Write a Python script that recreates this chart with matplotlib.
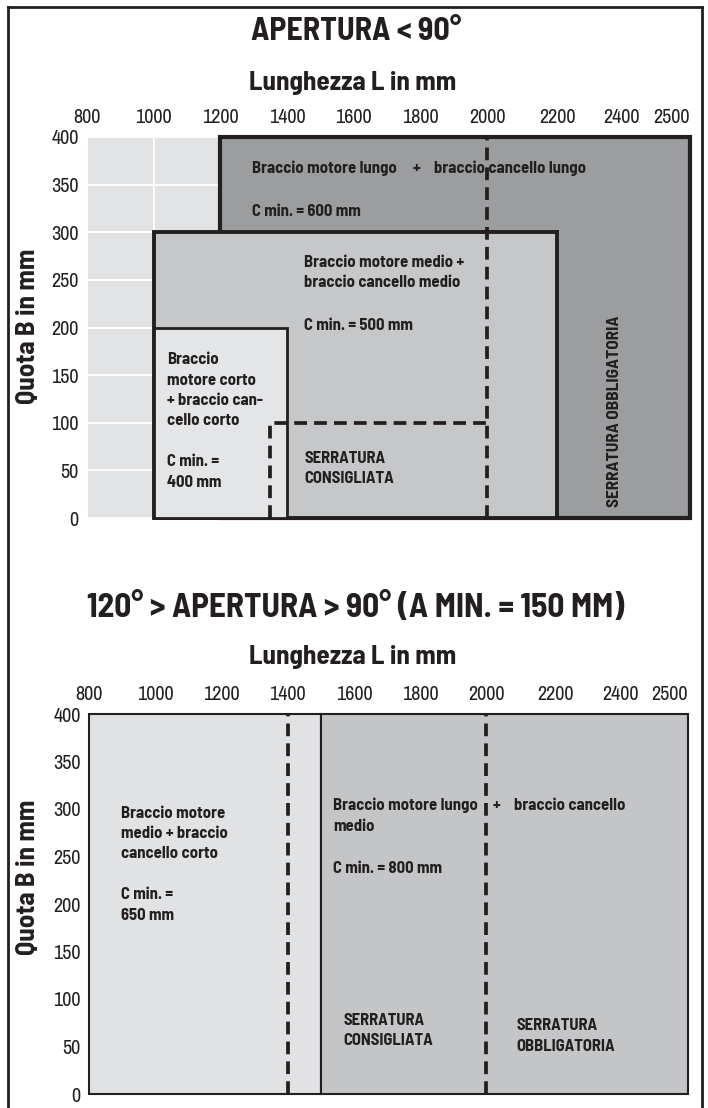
"""Recreate the 'APERTURA' arm-selection chart (two panels)."""
import matplotlib
matplotlib.use('Agg')
import matplotlib.pyplot as plt
import matplotlib.patches as mpatches
from matplotlib.lines import Line2D
import numpy as np

W, H = 708, 1108

# --- data -------------------------------------------------------------
# length axis (L, mm): ticks and the relative spacing used in the drawing
L_TICKS = [800, 1000, 1200, 1400, 1600, 1800, 2000, 2200, 2400, 2500]
L_SPACING = [0, 66.7, 133.3, 200, 266.7, 333.3, 400, 470, 535, 603]
B_TICKS = [0, 50, 100, 150, 200, 250, 300, 350, 400]

# panel 1: apertura < 90  (left, right, top) in mm
P1_LEFT = [1200, 1000, 1000]
P1_RIGHT = [2500, 2200, 1400]
P1_TOP = [400, 300, 200]
P1_CONSIGLIATA = (1350, 2000, 100)   # dashed area: L from, L to, B up to
P1_OBBLIG_L = 2000

# panel 2: 120 > apertura > 90
P2_LEFT = [800, 1500]
P2_RIGHT = [1500, 2500]
P2_TOP = [400, 400]
P2_DASHED_L = [1400, 2000]

# --- style ------------------------------------------------------------
INK = "#231f20"
BG = "#e2e3e5"
P1_COLORS = ["#9c9d9f", "#c6c7c9", "#e4e5e7"]
P1_LW = [3.0, 2.8, 2.0]
P2_COLORS = ["#e1e2e4", "#c4c5c7"]

F_TITLE = dict(family=["Barlow Semi Condensed", "DejaVu Sans"], fontstretch="condensed", fontweight="bold")
F_NOTE = dict(family=["Barlow Semi Condensed", "DejaVu Sans"], fontstretch="condensed", fontweight="bold")
F_TICK = dict(family=["Archivo Narrow", "DejaVu Sans"], fontstretch="condensed")


def fwd(x):
    return np.interp(x, L_TICKS, L_SPACING)


def inv(p):
    return np.interp(p, L_SPACING, L_TICKS)


fig = plt.figure(figsize=(W / 100, H / 100), dpi=100)
fig.patch.set_facecolor("white")


def axes_px(left, top, right, bottom):
    return fig.add_axes([left / W, 1 - bottom / H, (right - left) / W, (bottom - top) / H])


def setup(ax, grid=False):
    ax.set_xscale("function", functions=(fwd, inv))
    ax.set_xlim(800, 2500)
    ax.set_ylim(0, 400)
    ax.set_xticks(L_TICKS, [str(t) for t in L_TICKS])
    ax.set_yticks(B_TICKS, [str(t) for t in B_TICKS])
    ax.xaxis.tick_top()
    ax.tick_params(length=0, labelcolor=INK)
    ax.tick_params(axis="x", pad=7)
    ax.tick_params(axis="y", pad=6)
    for lab in ax.get_xticklabels() + ax.get_yticklabels():
        lab.set(fontsize=14.5, **F_TICK)
    ax.get_xticklabels()[-1].set_ha("right")
    for s in ax.spines.values():
        s.set_visible(False)
    if grid:
        ax.set_facecolor(BG)
        ax.grid(True, color="white", lw=1.3)
        ax.set_axisbelow(True)
    else:
        ax.set_facecolor("none")


def box(ax, l, r, top, fc, lw, z):
    ax.add_patch(mpatches.Rectangle((l, 0), r - l, top, facecolor=fc, edgecolor=INK,
                                    lw=lw, zorder=z, clip_on=False, joinstyle="miter"))


def note(ax, x, y, s, ha="left", **kw):
    kw.setdefault("fontsize", 12)
    ax.text(x, y, s, ha=ha, va="center", color=INK, linespacing=1.45, zorder=10,
            **F_NOTE, **kw)


DASH = dict(color=INK, lw=2.7, ls=(0, (3.4, 1.9)), zorder=8, clip_on=False,
            dash_capstyle="butt")

# --- titles -----------------------------------------------------------
TXT = dict(ha="center", va="center", color=INK, **F_TITLE)
fig.text(356 / W, 1 - 31 / H, "APERTURA < 90°", fontsize=23, **TXT)
fig.text(353 / W, 1 - 83 / H, "Lunghezza L in mm", fontsize=19.5, **TXT)
fig.text(356 / W, 1 - 607 / H, "120° > APERTURA > 90° (A MIN. = 150 MM)", fontsize=24, **TXT)
fig.text(353 / W, 1 - 657 / H, "Lunghezza L in mm", fontsize=19.5, **TXT)
for yc in (326, 877):
    fig.text(28 / W, 1 - yc / H, "Quota B in mm", rotation=90, fontsize=19.5, **TXT)

# --- panel 1 ----------------------------------------------------------
ax1 = axes_px(87, 137, 690, 518)
setup(ax1, grid=True)
for i in range(len(P1_LEFT)):
    box(ax1, P1_LEFT[i], P1_RIGHT[i], P1_TOP[i], P1_COLORS[i], P1_LW[i], 3 + i)

cl, cr, ct = P1_CONSIGLIATA
ax1.plot([cl, cl, cr], [0, ct, ct], **DASH)
ax1.plot([P1_OBBLIG_L, P1_OBBLIG_L], [0, 400], **DASH)

note(ax1, 1295, 367, "Braccio motore lungo")
note(ax1, 1787, 367, "+", ha="center")
note(ax1, 1841, 367, "braccio cancello lungo")
note(ax1, 1295, 322, "C min. = 600 mm")
note(ax1, 1451, 258, "Braccio motore medio +\nbraccio cancello medio")
note(ax1, 1451, 202, "C min. = 500 mm")
note(ax1, 1040, 102, "Braccio\nmotore corto\n+ braccio can-\ncello corto\n\nC min. =\n400 mm")
note(ax1, 1451, 52, "SERRATURA\nCONSIGLIATA")
note(ax1, 2378, 112, "SERRATURA OBBLIGATORIA", ha="center", rotation=90, fontsize=12.5)

# --- panel 2 ----------------------------------------------------------
ax2 = axes_px(89, 714, 688, 1094)
setup(ax2)
for i in range(len(P2_LEFT)):
    box(ax2, P2_LEFT[i], P2_RIGHT[i], P2_TOP[i], P2_COLORS[i], 1.5, 3 + i)
for lx in P2_DASHED_L:
    ax2.plot([lx, lx], [0, 400], **DASH)

note(ax2, 896, 242, "Braccio motore\nmedio + braccio\ncancello corto\n\nC min. =\n650 mm")
note(ax2, 1538, 293, "Braccio motore lungo\nmedio")
note(ax2, 1538, 237, "C min. = 800 mm")
note(ax2, 2029, 304, "+", ha="center")
note(ax2, 2080, 304, "braccio cancello")
note(ax2, 1568, 67, "SERRATURA\nCONSIGLIATA")
note(ax2, 2086, 61, "SERRATURA\nOBBLIGATORIA")

# --- outer frame (open at the bottom) --------------------------------
fx0, fx1, fy0 = 8 / W, 702 / W, 1 - 7 / H
for xs, ys in [([fx0, fx0], [0, fy0]), ([fx0, fx1], [fy0, fy0]), ([fx1, fx1], [fy0, 0])]:
    fig.add_artist(Line2D(xs, ys, color=INK, lw=2.0, solid_capstyle="projecting"))

fig.savefig("out.png", dpi=100)
plt.close(fig)
